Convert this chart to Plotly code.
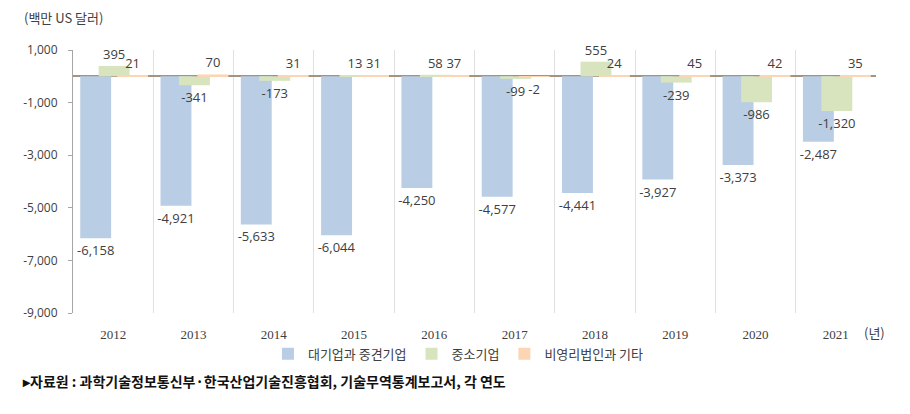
import plotly.graph_objects as go

years = ["2012", "2013", "2014", "2015", "2016", "2017", "2018", "2019", "2020", "2021"]
large = [-6158, -4921, -5633, -6044, -4250, -4577, -4441, -3927, -3373, -2487]
sme = [395, -341, -173, 13, 58, -99, 555, -239, -986, -1320]
nonprofit = [21, 70, 31, 31, 37, -2, 24, 45, 42, 35]
names = ["대기업과 중견기업", "중소기업", "비영리법인과 기타"]
colors = ["#b9cde5", "#d7e4bd", "#fcd5b5"]
offsets = [-0.41, -0.18, 0.05]
yticks = [1000, -1000, -3000, -5000, -7000, -9000]

LABEL_FONT = dict(family="Open Sans, Noto Sans, sans-serif", size=13, color="#404040")
KFONT = "Noto Sans CJK KR"

fig = go.Figure()
for name, vals, col, off in zip(names, [large, sme, nonprofit], colors, offsets):
    fig.add_trace(go.Bar(
        x=years, y=vals, name=name,
        marker=dict(color=col, line=dict(width=0)),
        width=0.385, offset=off,
        text=[f"{v:,}" for v in vals],
        textposition="outside", constraintext="none", cliponaxis=False,
        textfont=LABEL_FONT,
    ))

fig.update_layout(
    barmode="overlay",
    width=910, height=414,
    margin=dict(l=73, r=34, t=50, b=101),
    paper_bgcolor="white", plot_bgcolor="white",
    showlegend=True,
    legend=dict(orientation="h", x=0.48, xanchor="center", y=-0.155, yanchor="middle",
                font=dict(family=KFONT, size=13, color="#404040"),
                itemwidth=30, traceorder="normal"),
    xaxis=dict(type="category", tickson="boundaries", showgrid=True, gridcolor="#e0e0e0",
               gridwidth=1, ticks="", showline=False,
               tickfont=dict(family="Liberation Serif", size=13, color="#404040"),
               ticklabelstandoff=12),
    yaxis=dict(range=[-9000, 1000], tickvals=yticks, ticktext=[f"{v:,}" for v in yticks],
               showgrid=False, zeroline=True, zerolinecolor="#a09484", zerolinewidth=1.5,
               showline=True, linecolor="#a6a6a6", linewidth=1, ticks="outside", ticklen=4,
               tickcolor="#a6a6a6", ticklabelstandoff=8,
               tickfont=dict(family="Open Sans, Noto Sans, sans-serif", size=12, color="#404040")),
    annotations=[
        dict(text="(백만 US 달러)", xref="paper", yref="paper", x=-0.063, y=1.123,
             xanchor="left", yanchor="middle", showarrow=False,
             font=dict(family=KFONT, size=13, color="#404040")),
        dict(text="(년)", xref="paper", yref="paper", x=0.998, y=-0.076,
             xanchor="center", yanchor="middle", showarrow=False,
             font=dict(family=KFONT, size=13, color="#404040")),
        dict(text="<b>▸자료원 : 과학기술정보통신부·한국산업기술진흥협회, 기술무역통계보고서, 각 연도</b>",
             xref="paper", yref="paper", x=-0.066, y=-0.257,
             xanchor="left", yanchor="middle", showarrow=False,
             font=dict(family=KFONT, size=14, color="#111111")),
    ],
)

fig.write_html("out.html")
